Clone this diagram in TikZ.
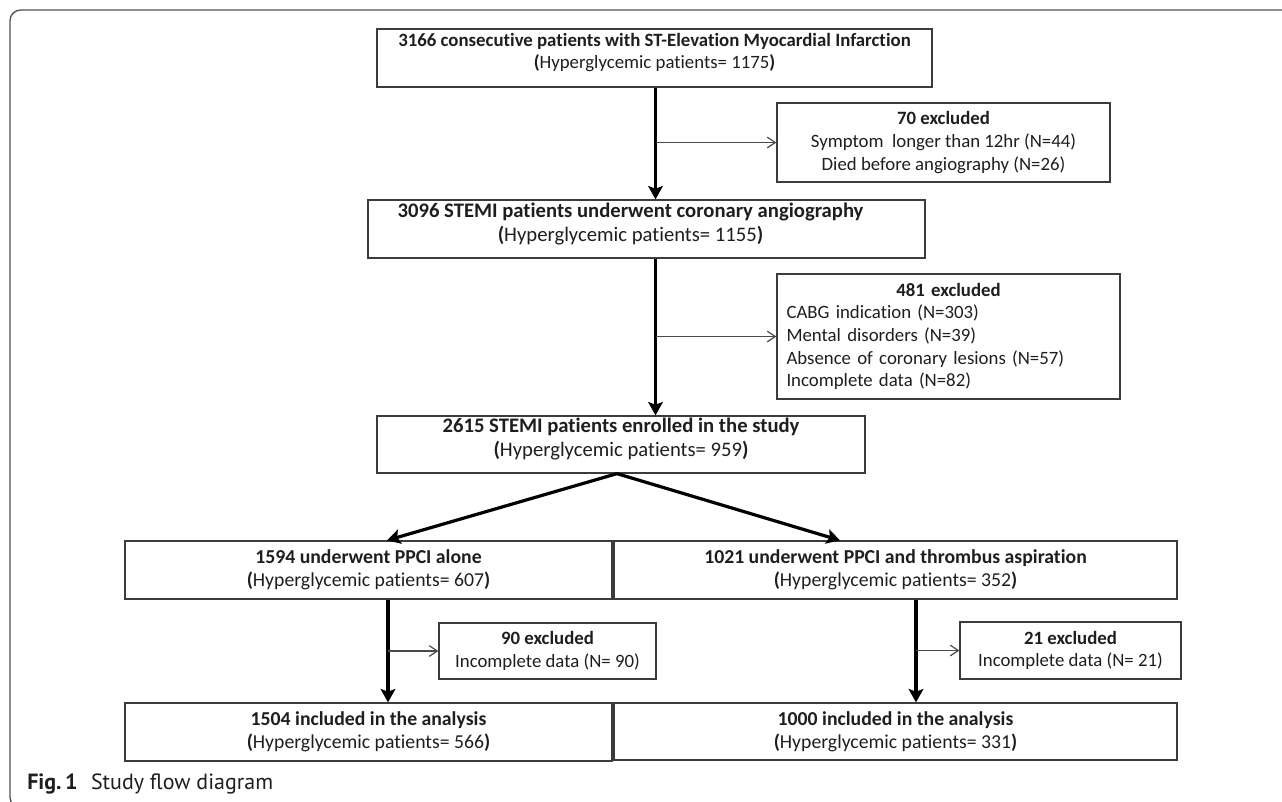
\documentclass[tikz,border=0pt]{standalone}
\usepackage{fontspec}
\setmainfont{Carlito}[Ligatures=NoCommon]
\newfontfamily\capfont{PT Sans}
\usetikzlibrary{arrows.meta,calc}
\definecolor{boxgray}{HTML}{3C3C3C}
\definecolor{txt}{HTML}{1E1E1E}
\definecolor{framegray}{HTML}{505050}
\definecolor{thingray}{HTML}{4A4A4A}
\begin{document}
\begin{tikzpicture}[x=0.75pt,y=-0.75pt,
  box/.style={draw=boxgray, line width=0.95pt, inner sep=0pt, align=center,
    font=\fontsize{14.1}{17}\selectfont, text=txt},
  bigtext/.style={font=\fontsize{15.5}{18}\selectfont},
  midtext/.style={font=\fontsize{14.8}{17.5}\selectfont},
  raised/.style={text depth=10.5pt},
  mainarrow/.style={line width=2.4pt, -{Stealth[length=10pt,width=11pt,inset=2pt]}},
  sidearrow/.style={draw=thingray, line width=0.9pt, -{Straight Barb[length=6pt,width=8pt]}}]
\useasboundingbox (0,0) rectangle (1282,801);
\begin{scope}
\clip (0,0) rectangle (1282,801);
\draw[framegray, line width=1pt, rounded corners=8pt] (10,10) rectangle (1300,808);
\end{scope}

\node[box, raised, minimum width=416.25pt, minimum height=43.5pt] (A) at (654.5,58)
  {\textbf{3166 consecutive patients with ST-Elevation Myocardial Infarction}\\
   \textbf{(}Hyperglycemic patients= 1175\textbf{)}};
\node[box, minimum width=249.75pt, minimum height=59.25pt] (E1) at (943.5,142.5)
  {\textbf{70 excluded}\\Symptom\ \ longer than 12hr\ (N=44)\\Died before\ angiography (N=26)};
\node[box, bigtext, raised, minimum width=417.75pt, minimum height=43.5pt] (B) at (646.5,229)
  {\textbf{3096 STEMI patients underwent coronary angiography}\kern24pt\\
   \textbf{(}Hyperglycemic patients= 1155\textbf{)}\kern24pt};
\node[box, minimum width=257.25pt, minimum height=93.75pt, align=left, text width=243pt] (E2) at (948.5,336.5)
  {\makebox[243pt]{\textbf{481 excluded}}\\CABG indication (N=303)\\Mental disorders (N=39)\\Absence of coronary lesions (N=57)\\Incomplete data (N=82)};
\node[box, bigtext, raised, minimum width=366pt, minimum height=42.75pt] (C) at (621,444.5)
  {\textbf{2615 STEMI patients enrolled in the study}\\
   \textbf{(}Hyperglycemic patients= 959\textbf{)}};
\node[box, midtext, minimum width=365.25pt, minimum height=43.5pt] (D) at (368.5,570)
  {\textbf{1594 underwent PPCI alone}\\
   \textbf{(}Hyperglycemic patients= 607\textbf{)}};
\node[box, midtext, minimum width=422.25pt, minimum height=43.5pt] (F) at (895.5,570)
  {\textbf{1021 underwent PPCI and thrombus aspiration}\\
   \textbf{(}Hyperglycemic patients= 352\textbf{)}};
\node[box, minimum width=162.75pt, minimum height=42pt] (E3) at (547.5,651)
  {\textbf{90 excluded}\\Incomplete\ data (N= 90)};
\node[box, minimum width=165.75pt, minimum height=42.75pt] (E4) at (1070.5,650.5)
  {\textbf{21 excluded}\\Incomplete\ data (N= 21)};
\node[box, midtext, minimum width=365.25pt, minimum height=43.5pt] (G) at (368.5,732)
  {\textbf{1504 included in the analysis}\\
   \textbf{(}Hyperglycemic patients= 566\textbf{)}};
\node[box, midtext, minimum width=422.25pt, minimum height=42.75pt] (H) at (895.5,731.5)
  {\textbf{1000 included in the analysis}\\
   \textbf{(}Hyperglycemic patients= 331\textbf{)}};

\node[anchor=west, inner sep=0pt, font=\capfont\fontsize{16.5}{18}\selectfont, text=txt] (cap) at (27,784)
  {\textbf{Fig.\,1}\hspace{10pt}Study flow diagram};

\coordinate (mx) at (655.5,0);
\coordinate (sx) at (617,0);
\coordinate (lx) at (388,0);
\coordinate (rx) at (916,0);
\coordinate (ltip) at (387,0);
\coordinate (rtip) at (840,0);

\draw[mainarrow] (A.south -| mx) -- (B.north -| mx);
\draw[mainarrow] (B.south -| mx) -- (C.north -| mx);
\draw[sidearrow] (E1.west -| mx) -- (E1.west);
\draw[sidearrow] (E2.west -| mx) -- (E2.west);
\draw[mainarrow] (C.south -| sx) -- (D.north -| ltip);
\draw[mainarrow] (C.south -| sx) -- (F.north -| rtip);
\draw[mainarrow] (D.south -| lx) -- (G.north -| lx);
\draw[mainarrow] (F.south -| rx) -- (H.north -| rx);
\draw[sidearrow] (E3.west -| lx) -- (E3.west);
\draw[sidearrow] (E4.west -| rx) -- (E4.west);
\end{tikzpicture}
\end{document}
